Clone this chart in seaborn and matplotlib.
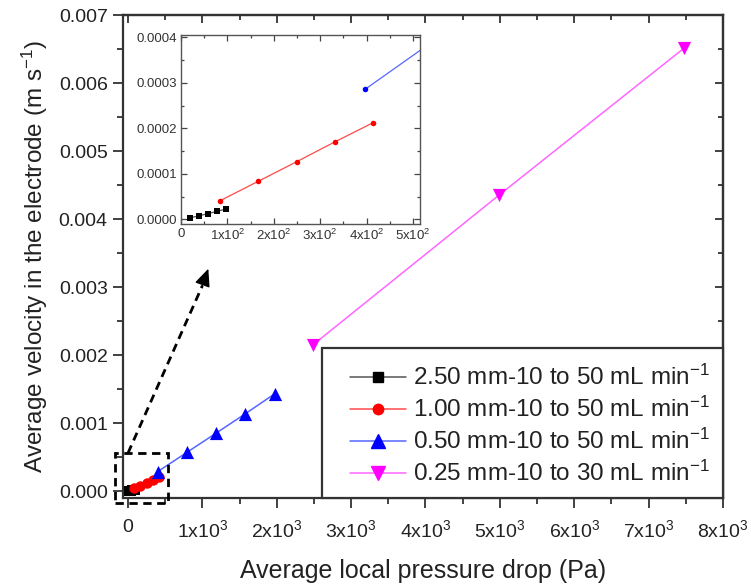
import matplotlib
matplotlib.use("Agg")
import matplotlib.pyplot as plt
import seaborn as sns
import pandas as pd
from matplotlib.lines import Line2D
from matplotlib.patches import Rectangle
from matplotlib.ticker import MultipleLocator, FixedLocator, NullFormatter

# ---------------- data ----------------
labels = ["2.50 mm-10 to 50 mL min$^{-1}$",
          "1.00 mm-10 to 50 mL min$^{-1}$",
          "0.50 mm-10 to 50 mL min$^{-1}$",
          "0.25 mm-10 to 30 mL min$^{-1}$"]
x_250 = [20, 39, 59, 77, 96]
y_250 = [0.0000037, 0.0000080, 0.0000130, 0.0000176, 0.0000227]
x_100 = [84, 166, 249, 331, 414]
y_100 = [0.0000410, 0.0000835, 0.0001267, 0.0001700, 0.0002125]
x_050 = [397, 794, 1190, 1580, 1970]
y_050 = [0.000286, 0.000572, 0.000857, 0.001140, 0.001430]
x_025 = [2486, 4986, 7473]
y_025 = [0.00215, 0.00435, 0.00651]

x_major = [0, 1000, 2000, 3000, 4000, 5000, 6000, 7000, 8000]
x_ticklabels = ["0"] + [f"{i}x10$^{{3}}$" for i in range(1, 9)]
y_major = [0.000, 0.001, 0.002, 0.003, 0.004, 0.005, 0.006, 0.007]
y_ticklabels = [f"{v:.3f}" for v in y_major]
ix_major = [0, 100, 200, 300, 400, 500]
ix_ticklabels = ["0"] + [f"{i}x10$^{{2}}$" for i in range(1, 6)]
iy_major = [0.0000, 0.0001, 0.0002, 0.0003, 0.0004]
iy_ticklabels = [f"{v:.4f}" for v in iy_major]

xs = [x_250, x_100, x_050, x_025]
ys = [y_250, y_100, y_050, y_025]
rows = []
for lab, xv, yv in zip(labels, xs, ys):
    for a, b in zip(xv, yv):
        rows.append({"series": lab, "dp": a, "vel": b})
df = pd.DataFrame(rows)

# ---------------- styles ----------------
mcolors = {labels[0]: "#000000", labels[1]: "#ff0000", labels[2]: "#0000ff", labels[3]: "#ff00ff"}
lcolors = {labels[0]: "#555555", labels[1]: "#ff4a4a", labels[2]: "#5566ff", labels[3]: "#ff66ff"}
markers = {labels[0]: "s", labels[1]: "o", labels[2]: "^", labels[3]: "v"}
msizes = {labels[0]: 6.5, labels[1]: 7.5, labels[2]: 9.5, labels[3]: 9.5}

sns.set_theme(style="white")
plt.rcParams["font.family"] = ["Liberation Sans", "DejaVu Sans"]
plt.rcParams["mathtext.fontset"] = "custom"
plt.rcParams["mathtext.rm"] = "Liberation Sans"
plt.rcParams["mathtext.it"] = "Liberation Sans"
plt.rcParams["mathtext.default"] = "regular"

SP = "#333333"
TXT = "#222222"
fig = plt.figure(figsize=(7.51, 5.88), dpi=100)
ax = fig.add_axes([123 / 751, 1 - 498 / 588, (723 - 123) / 751, (498 - 15) / 588])

# lines
sns.lineplot(data=df, x="dp", y="vel", hue="series", palette=lcolors, sort=False,
             estimator=None, lw=1.1, legend=False, ax=ax, zorder=2)
# markers
for lab in labels:
    sub = df[df["series"] == lab]
    sns.scatterplot(data=sub, x="dp", y="vel", color=mcolors[lab], marker=markers[lab],
                    s=msizes[lab] ** 2, edgecolor=mcolors[lab], linewidth=0,
                    legend=False, ax=ax, zorder=3)

ax.set_xlim(-67, 8000)
ax.set_ylim(-0.0001, 0.007)
ax.xaxis.set_major_locator(FixedLocator(x_major))
ax.set_xticklabels(x_ticklabels)
ax.xaxis.set_minor_locator(MultipleLocator(500))
ax.yaxis.set_major_locator(FixedLocator(y_major))
ax.set_yticklabels(y_ticklabels)
ax.yaxis.set_minor_locator(MultipleLocator(0.0005))
ax.tick_params(axis="both", which="major", direction="out", length=7, width=1.3,
               color=SP, labelsize=14, labelcolor=TXT, bottom=True, left=True,
               top=False, right=False)
ax.tick_params(axis="x", which="major", pad=8)
ax.tick_params(axis="y", which="major", pad=4)
ax.tick_params(axis="both", which="minor", direction="out", length=4, width=1.3,
               color=SP, bottom=True, left=True, top=False, right=False)
for sp in ax.spines.values():
    sp.set_color(SP)
    sp.set_linewidth(1.6)

# mirrored inward ticks on top and right
secx = ax.secondary_xaxis("top")
secx.xaxis.set_major_locator(FixedLocator(x_major))
secx.xaxis.set_minor_locator(MultipleLocator(500))
secx.xaxis.set_major_formatter(NullFormatter())
secx.tick_params(which="major", direction="in", length=6, width=1.3, color=SP)
secx.tick_params(which="minor", direction="in", length=3.5, width=1.3, color=SP)
secx.spines["top"].set_color(SP)
secx.spines["top"].set_linewidth(1.6)
secy = ax.secondary_yaxis("right")
secy.yaxis.set_major_locator(FixedLocator(y_major))
secy.yaxis.set_minor_locator(MultipleLocator(0.0005))
secy.yaxis.set_major_formatter(NullFormatter())
secy.tick_params(which="major", direction="in", length=6, width=1.3, color=SP)
secy.tick_params(which="minor", direction="in", length=3.5, width=1.3, color=SP)
secy.spines["right"].set_color(SP)
secy.spines["right"].set_linewidth(1.6)

ax.set_xlabel("Average local pressure drop (Pa)", fontsize=18, color=TXT, labelpad=13)
ax.set_ylabel("Average velocity in the electrode (m s$^{-1}$)", fontsize=17.5,
              color=TXT, labelpad=6)

# legend: frame drawn as a rectangle, entries placed inside it
ax.add_patch(Rectangle((199 / 600, 0), 1 - 199 / 600, 150 / 483, transform=ax.transAxes,
                       facecolor="white", edgecolor=SP, lw=1.6, zorder=6, clip_on=False))
handles = [Line2D([], [], color=lcolors[l], lw=1.1, marker=markers[l], markersize=msizes[l],
                  markerfacecolor=mcolors[l], markeredgecolor=mcolors[l]) for l in labels]
leg = ax.legend(handles, labels, loc="center left",
                bbox_to_anchor=((350 - 123) / 600, (498 - 425.5) / 483),
                fontsize=17.5, frameon=False,
                handlelength=2.3, handletextpad=0.3, labelspacing=0.28,
                borderpad=0, borderaxespad=0)
leg.set_zorder(7)
for t in leg.get_texts():
    t.set_color(TXT)

# dashed zoom box and arrow
ax.add_patch(Rectangle((-175, -0.000176), 713, 0.000736, fill=False, ls=(0, (3, 2)),
                       lw=2.0, ec="black", clip_on=False, zorder=5))
ax.plot([0, 1000], [0.00056, 0.00302], ls=(0, (3, 2)), lw=2.0, color="black",
        clip_on=False, zorder=5)
ax.annotate("", xy=(1080, 0.00327), xytext=(990, 0.00300), xycoords="data",
            arrowprops=dict(arrowstyle="-|>,head_length=0.9,head_width=0.4",
                            lw=1.0, color="black", shrinkA=0, shrinkB=0),
            annotation_clip=False, zorder=5)

# ---------------- inset ----------------
ins = fig.add_axes([181 / 751, 1 - 224 / 588, (420 - 181) / 751, (224 - 35) / 588])
sns.lineplot(data=df, x="dp", y="vel", hue="series", palette=lcolors, sort=False,
             estimator=None, lw=0.9, legend=False, ax=ins, zorder=2)
for lab in labels:
    sub = df[df["series"] == lab]
    sns.scatterplot(data=sub, x="dp", y="vel", color=mcolors[lab],
                    marker="o" if lab != labels[0] else "s",
                    s=16, edgecolor=mcolors[lab], linewidth=0, legend=False, ax=ins, zorder=3)
ins.set_xlim(0, 515)
ins.set_ylim(-0.00001, 0.000405)
ins.xaxis.set_major_locator(FixedLocator(ix_major))
ins.set_xticklabels(ix_ticklabels)
ins.xaxis.set_minor_locator(MultipleLocator(50))
ins.yaxis.set_major_locator(FixedLocator(iy_major))
ins.set_yticklabels(iy_ticklabels)
ins.yaxis.set_minor_locator(MultipleLocator(0.00005))
ins.tick_params(axis="both", which="major", direction="in", length=4, width=0.9,
                color="#444444", labelsize=9.5, labelcolor="#333333", pad=3,
                top=True, right=True, bottom=True, left=True)
ins.tick_params(axis="both", which="minor", direction="in", length=2.5, width=0.9,
                color="#444444", top=True, right=True, bottom=True, left=True)
ins.set_xlabel("")
ins.set_ylabel("")
for sp in ins.spines.values():
    sp.set_color("#555555")
    sp.set_linewidth(1.0)

fig.savefig("out.png", dpi=100)
